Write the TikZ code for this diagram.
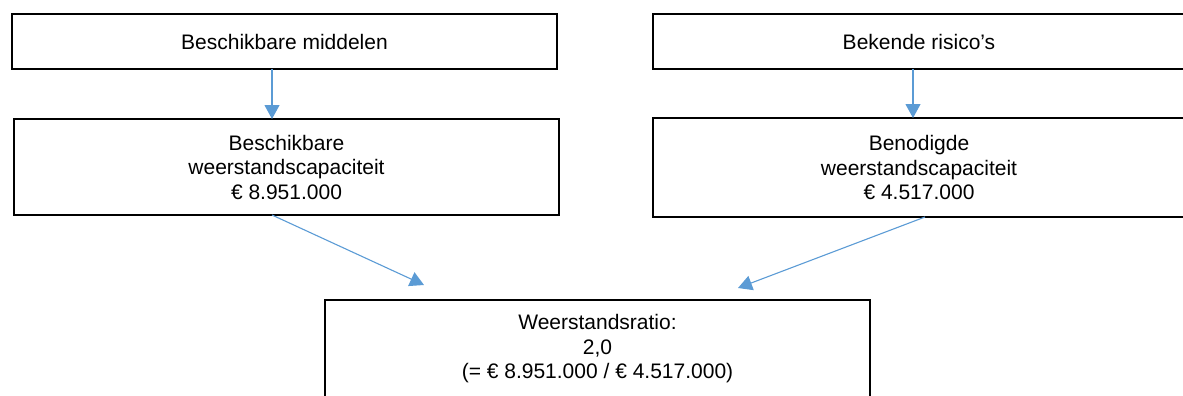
\documentclass[tikz,border=0pt]{standalone}
\usepackage{fontspec}
\setmainfont{Liberation Sans}
\usetikzlibrary{arrows.meta}
\definecolor{arrowblue}{HTML}{5B9BD5}
\begin{document}
\begin{tikzpicture}[x=1pt,y=-1pt,
  box/.style={draw=black, line width=1.6pt, rectangle, inner sep=0pt, outer sep=0pt,
    align=center, font=\fontsize{21}{24.5}\selectfont},
  conn/.style={draw=arrowblue, line width=1.1pt, -{Triangle[length=14pt,width=15pt]}}]
\useasboundingbox (0,0) rectangle (1183,396);
\node[box, minimum width=545pt, minimum height=55pt] (A) at (284.5,41.5) {Beschikbare middelen};
\node[box, minimum width=545pt, minimum height=96pt] (B) at (286.5,167) {Beschikbare\\weerstandscapaciteit\\€ 8.951.000};
\node[box, minimum width=532pt, minimum height=55pt] (C) at (919,41.5) {Bekende risico’s};
\node[box, minimum width=532pt, minimum height=99pt] (D) at (919,167.5) {Benodigde\\weerstandscapaciteit\\€ 4.517.000};
\node[box, minimum width=545pt, minimum height=97.5pt] (E) at (597.5,348.75) {Weerstandsratio:\\2,0\\(= € 8.951.000 / € 4.517.000)};
\coordinate (t1) at (424,285);
\coordinate (t2) at (738,288);
\draw[conn] (A.south -| 272,0) -- (B.north -| 272,0);
\draw[conn] (C.south -| 913,0) -- (D.north -| 913,0);
\draw[conn] (B.south -| 272,0) -- (t1);
\draw[conn] (D.south -| 925,0) -- (t2);
\end{tikzpicture}
\end{document}
